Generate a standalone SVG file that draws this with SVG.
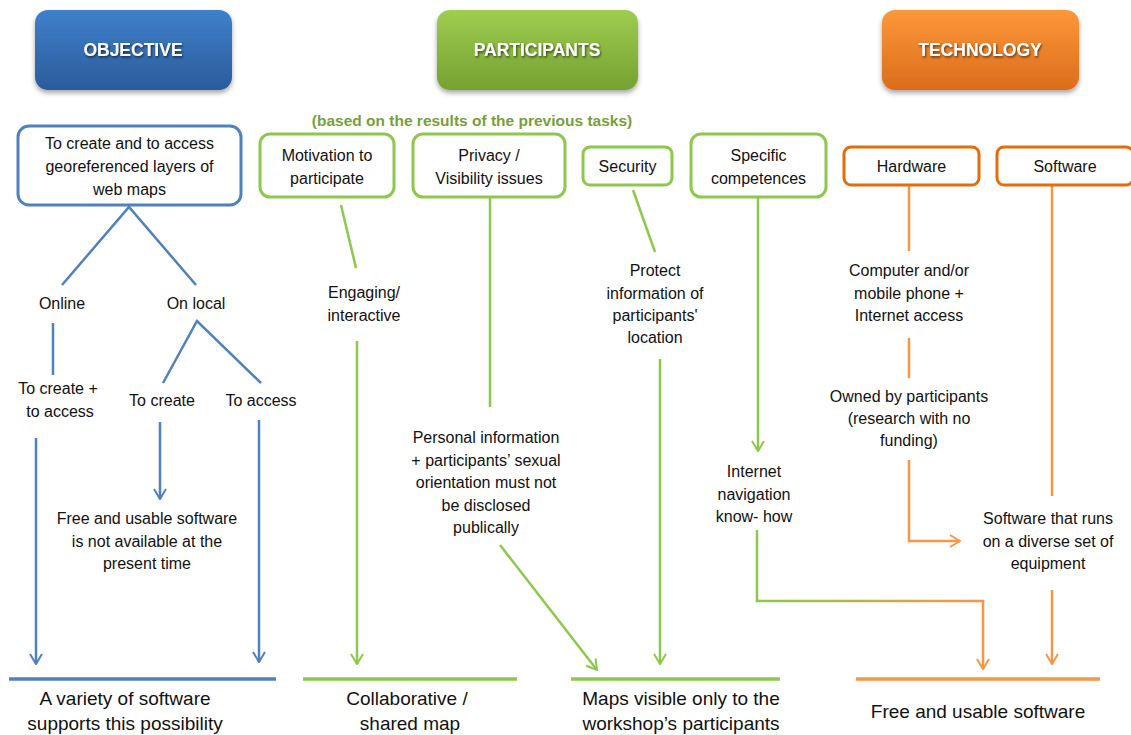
<svg xmlns="http://www.w3.org/2000/svg" width="1131" height="735" viewBox="0 0 1131 735">
<defs>
<linearGradient id="gBlue" x1="0" y1="0" x2="0" y2="1"><stop offset="0" stop-color="#3f80cc"/><stop offset="1" stop-color="#2b5c9b"/></linearGradient>
<linearGradient id="gGreen" x1="0" y1="0" x2="0" y2="1"><stop offset="0" stop-color="#9fcd4f"/><stop offset="1" stop-color="#74a131"/></linearGradient>
<linearGradient id="gOrange" x1="0" y1="0" x2="0" y2="1"><stop offset="0" stop-color="#fc983a"/><stop offset="1" stop-color="#dc6c1b"/></linearGradient>
<linearGradient id="gMix" gradientUnits="userSpaceOnUse" x1="757" y1="0" x2="983" y2="0"><stop offset="0" stop-color="#8cc84b"/><stop offset="1" stop-color="#f79646"/></linearGradient>
<filter id="sh" x="-10%" y="-10%" width="120%" height="130%"><feDropShadow dx="0" dy="3" stdDeviation="2.5" flood-color="#000" flood-opacity="0.35"/></filter>
<filter id="tsh" x="-10%" y="-30%" width="120%" height="160%"><feDropShadow dx="1" dy="1.5" stdDeviation="1" flood-color="#000" flood-opacity="0.6"/></filter>
<marker id="aB" viewBox="0 0 12 14" refX="11" refY="7" markerWidth="12" markerHeight="14" markerUnits="userSpaceOnUse" orient="auto"><path d="M1,1 L11,7 L1,13" fill="none" stroke="#4f81bd" stroke-width="2"/></marker>
<marker id="aG" viewBox="0 0 12 14" refX="11" refY="7" markerWidth="12" markerHeight="14" markerUnits="userSpaceOnUse" orient="auto"><path d="M1,1 L11,7 L1,13" fill="none" stroke="#8cc84b" stroke-width="2"/></marker>
<marker id="aO" viewBox="0 0 12 14" refX="11" refY="7" markerWidth="12" markerHeight="14" markerUnits="userSpaceOnUse" orient="auto"><path d="M1,1 L11,7 L1,13" fill="none" stroke="#f79646" stroke-width="2"/></marker>
</defs>
<style>
text{font-family:"Liberation Sans",Arial,sans-serif;fill:#111;text-anchor:middle;}
.t{font-size:16px;}
.b{font-size:19px;}
.h{font-size:17.5px;font-weight:bold;fill:#fff;}
.sub{font-size:15.5px;font-weight:bold;fill:#77a03a;}
.bb{fill:#fff;stroke:#4f81bd;stroke-width:3;}
.gb{fill:#fff;stroke:#8cc84b;stroke-width:3;}
.ob{fill:#fff;stroke:#e46c0a;stroke-width:3;}
.lb{stroke:#4f81bd;stroke-width:2.5;fill:none;}
.lg{stroke:#8cc84b;stroke-width:2.5;fill:none;}
.lo{stroke:#f79646;stroke-width:2.5;fill:none;}
.base{stroke-width:3.5;fill:none;}
</style>
<rect width="1131" height="735" fill="#fff"/>

<g id="hdr-objective">
<rect x="35" y="10" width="197" height="80" rx="13" fill="url(#gBlue)" filter="url(#sh)"/>
<text class="h" x="133" y="56" filter="url(#tsh)">OBJECTIVE</text>
</g>
<g id="hdr-participants">
<rect x="437" y="10" width="201" height="80" rx="13" fill="url(#gGreen)" filter="url(#sh)"/>
<text class="h" x="537" y="56" filter="url(#tsh)">PARTICIPANTS</text>
</g>
<g id="hdr-technology">
<rect x="882" y="10" width="197" height="80" rx="13" fill="url(#gOrange)" filter="url(#sh)"/>
<text class="h" x="980" y="56" filter="url(#tsh)">TECHNOLOGY</text>
</g>
<g id="subtitle"><text class="sub" x="472" y="126">(based on the results of the previous tasks)</text></g>

<g id="connectors">
<polyline class="lb" points="62,285 129,207 196,285"/>
<line class="lb" x1="53" y1="323" x2="53" y2="375"/>
<polyline class="lb" points="163,383 197,321 261,383"/>
<line class="lb" x1="36" y1="438" x2="36" y2="664" marker-end="url(#aB)"/>
<line class="lb" x1="160" y1="422" x2="160" y2="499" marker-end="url(#aB)"/>
<line class="lb" x1="259" y1="420" x2="259" y2="662" marker-end="url(#aB)"/>
<line class="lg" x1="341" y1="205" x2="356" y2="268"/>
<line class="lg" x1="357" y1="341" x2="357" y2="664" marker-end="url(#aG)"/>
<line class="lg" x1="490" y1="198" x2="490" y2="407"/>
<line class="lg" x1="500" y1="545" x2="597" y2="670" marker-end="url(#aG)"/>
<line class="lg" x1="633" y1="190" x2="655" y2="252"/>
<line class="lg" x1="660" y1="359" x2="660" y2="664" marker-end="url(#aG)"/>
<line class="lg" x1="758" y1="198" x2="758" y2="451" marker-end="url(#aG)"/>
<path d="M757,530 V601 H983 V669" stroke="url(#gMix)" stroke-width="2.5" fill="none" marker-end="url(#aO)"/>
<line class="lo" x1="909" y1="186" x2="909" y2="251"/>
<line class="lo" x1="909" y1="338" x2="909" y2="378"/>
<polyline class="lo" points="909,460 909,541 960,541" marker-end="url(#aO)"/>
<line class="lo" x1="1052" y1="186" x2="1052" y2="496"/>
<line class="lo" x1="1052" y1="590" x2="1052" y2="664" marker-end="url(#aO)"/>
<line class="base" stroke="#4f81bd" x1="9" y1="679" x2="276" y2="679"/>
<line class="base" stroke="#8cc84b" x1="303" y1="679" x2="517" y2="679"/>
<line class="base" stroke="#8cc84b" x1="571" y1="679" x2="780" y2="679"/>
<line class="base" stroke="#f79646" x1="856" y1="679" x2="1100" y2="679"/>
</g>

<g id="n-objective-box">
<rect class="bb" x="18" y="126" width="223" height="79" rx="11"/>
<text class="t" x="129.5" y="149">To create and to access</text>
<text class="t" x="129.5" y="172">georeferenced layers of</text>
<text class="t" x="129.5" y="195">web maps</text>
</g>
<g id="n-motivation">
<rect class="gb" x="260" y="134" width="134" height="63" rx="10"/>
<text class="t" x="327" y="161">Motivation to</text>
<text class="t" x="327" y="184">participate</text>
</g>
<g id="n-privacy">
<rect class="gb" x="413" y="134" width="152" height="63" rx="10"/>
<text class="t" x="489" y="161">Privacy /</text>
<text class="t" x="489" y="184">Visibility issues</text>
</g>
<g id="n-security">
<rect class="gb" x="583" y="147" width="89" height="38" rx="7"/>
<text class="t" x="627.5" y="172">Security</text>
</g>
<g id="n-competences">
<rect class="gb" x="691" y="134" width="135" height="63" rx="10"/>
<text class="t" x="758.5" y="161">Specific</text>
<text class="t" x="758.5" y="184">competences</text>
</g>
<g id="n-hardware">
<rect class="ob" x="844" y="147" width="135" height="38" rx="7"/>
<text class="t" x="911.5" y="172">Hardware</text>
</g>
<g id="n-software">
<rect class="ob" x="997" y="147" width="136" height="38" rx="7"/>
<text class="t" x="1065" y="172">Software</text>
</g>

<g id="n-online"><text class="t" x="62" y="309">Online</text></g>
<g id="n-onlocal"><text class="t" x="196" y="309">On local</text></g>
<g id="n-create-access"><text class="t" x="58" y="394">To create +</text><text class="t" x="60" y="417">to access</text></g>
<g id="n-create"><text class="t" x="162" y="406">To create</text></g>
<g id="n-access"><text class="t" x="261" y="406">To access</text></g>
<g id="n-notavailable">
<text class="t" x="147" y="524">Free and usable software</text>
<text class="t" x="147" y="547">is not available at the</text>
<text class="t" x="147" y="569">present time</text>
</g>
<g id="n-engaging"><text class="t" x="364" y="298">Engaging/</text><text class="t" x="364" y="321">interactive</text></g>
<g id="n-personal">
<text class="t" x="486" y="443">Personal information</text>
<text class="t" x="486" y="466">+ participants’ sexual</text>
<text class="t" x="486" y="488">orientation must not</text>
<text class="t" x="486" y="511">be disclosed</text>
<text class="t" x="486" y="533">publically</text>
</g>
<g id="n-protect">
<text class="t" x="655" y="276">Protect</text>
<text class="t" x="655" y="299">information of</text>
<text class="t" x="655" y="321">participants'</text>
<text class="t" x="655" y="343">location</text>
</g>
<g id="n-internet">
<text class="t" x="754" y="477">Internet</text>
<text class="t" x="754" y="500">navigation</text>
<text class="t" x="754" y="522">know- how</text>
</g>
<g id="n-computer">
<text class="t" x="909" y="276">Computer and/or</text>
<text class="t" x="909" y="299">mobile phone +</text>
<text class="t" x="909" y="321">Internet access</text>
</g>
<g id="n-owned">
<text class="t" x="909" y="402">Owned by participants</text>
<text class="t" x="909" y="424">(research with no</text>
<text class="t" x="909" y="446">funding)</text>
</g>
<g id="n-runs">
<text class="t" x="1048" y="524">Software that runs</text>
<text class="t" x="1048" y="547">on a diverse set of</text>
<text class="t" x="1048" y="569">equipment</text>
</g>

<g id="n-variety"><text class="b" x="125" y="705">A variety of software</text><text class="b" x="125" y="730">supports this possibility</text></g>
<g id="n-collab"><text class="b" x="407" y="705">Collaborative /</text><text class="b" x="410" y="730">shared map</text></g>
<g id="n-maps"><text class="b" x="681" y="705">Maps visible only to the</text><text class="b" x="681" y="730">workshop’s participants</text></g>
<g id="n-free"><text class="b" x="978" y="718">Free and usable software</text></g>
</svg>
